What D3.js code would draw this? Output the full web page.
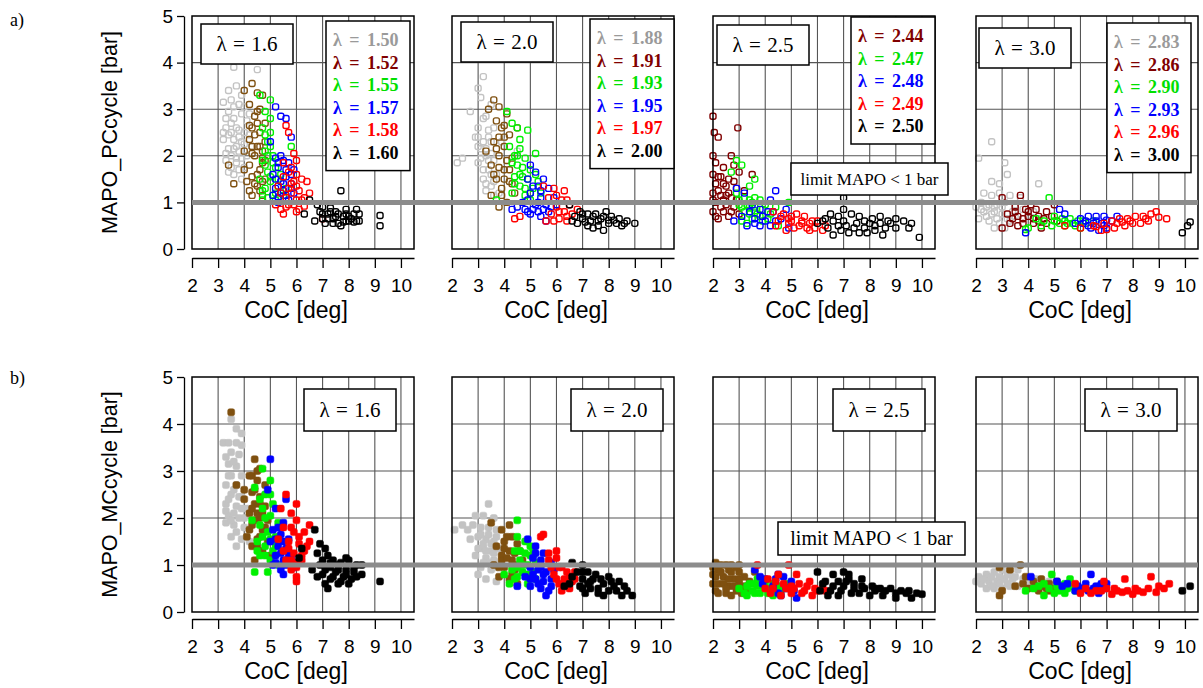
<!DOCTYPE html>
<html>
<head>
<meta charset="utf-8">
<script src="https://cdn.jsdelivr.net/npm/d3@7"></script>
<style>
  body { margin: 0; background: #fff; }
  text { fill: #000; }
</style>
</head>
<body>
<svg id="chart" width="1203" height="688"></svg>
<script>
// ---- data: [CoC deg, MAPO bar] ----
// a) MAPO_PCcycle, lambda = 1.6 panel
var pc16_150 = [[3.6,3.9],[4.5,3.85],[3.7,3.5],[3.2,3.15],[3.5,3.2],[3.8,3.1],[3.4,2.95],[3.9,2.9],[3.6,2.8],[4.1,2.75],[3.3,2.6],[3.7,2.6],[3.5,2.5],[4.0,2.5],[3.2,2.35],[3.6,2.35],[3.9,2.3],[4.3,2.2],[3.4,2.15],[3.8,2.1],[3.5,2.0],[4.1,2.0],[3.3,1.9],[3.7,1.85],[4.0,1.75],[3.6,1.6],[3.9,1.5],[3.4,3.4],[4.2,2.9],[3.9,3.3],[3.5,2.7],[3.8,2.4],[3.6,2.15],
  [3.4,2.45],[3.8,2.55],[4.0,2.25],[3.3,2.05],[3.7,1.95],[3.5,1.75],[3.9,1.95],[3.6,3.05],[3.3,2.8],[4.0,3.05],[3.7,2.2],[3.4,1.65],[3.8,1.7],[3.2,2.5],[4.2,2.45]];
var pc16_152 = [[4.3,3.55],[4.5,3.35],[4.7,3.3],[4.0,3.4],[4.2,3.1],[4.6,3.0],[4.4,2.85],[4.8,2.7],[4.3,2.6],[4.6,2.5],[4.2,2.35],[4.8,2.3],[4.5,2.2],[4.0,2.1],[4.4,2.0],[4.7,1.95],[3.4,1.8],[4.2,1.8],[4.6,1.7],[4.3,1.55],[4.8,1.5],[4.5,1.35],[4.2,1.25],[4.0,1.7],[4.7,1.15],[4.5,2.7],[4.3,2.2],
  [4.4,2.45],[4.6,2.2],[4.3,2.05],[4.7,1.85],[4.5,1.6],[4.4,1.4],[4.7,1.45],[4.6,1.25],[4.3,1.15],[4.8,1.9],[4.5,2.95],[4.2,2.65],[4.7,2.1],[3.6,1.4],[4.1,1.45]];
var pc16_155 = [[4.6,3.3],[5.0,3.2],[4.8,2.95],[5.0,2.8],[4.7,2.6],[5.0,2.5],[4.9,2.3],[5.8,2.2],[4.8,2.1],[5.1,2.0],[4.7,1.9],[5.2,1.75],[4.9,1.65],[5.4,1.6],[4.6,1.5],[5.0,1.45],[5.6,1.3],[4.7,1.25],[5.2,1.2],[5.5,1.15],[4.9,1.1],[5.3,1.35],
  [4.8,1.8],[5.0,1.55],[4.8,1.3],[5.1,1.15],[5.3,1.5],[4.9,2.0],[5.1,1.85],[4.8,2.45],[5.0,2.2],[4.7,1.05],[5.2,1.05]];
var pc16_157 = [[5.2,3.05],[5.4,2.85],[5.6,2.8],[5.8,2.4],[5.0,2.3],[5.2,1.95],[5.5,1.9],[5.7,1.85],[5.3,1.75],[5.9,1.7],[5.1,1.6],[5.6,1.55],[5.4,1.45],[5.8,1.4],[5.2,1.3],[5.5,1.25],[5.9,1.2],[5.3,1.1],[5.7,1.05],
  [5.3,1.85],[5.6,1.7],[5.2,1.5],[5.5,1.4],[5.8,1.3],[5.4,1.2],[5.1,1.15],[5.6,1.15],[5.8,1.6],[5.4,2.0],[5.3,1.0]];
var pc16_158 = [[5.6,2.65],[5.7,2.5],[5.9,2.05],[6.0,1.9],[5.5,1.85],[5.8,1.75],[6.0,1.6],[5.5,1.55],[5.9,1.45],[6.4,1.45],[5.3,1.35],[5.7,1.3],[6.1,1.25],[6.5,1.2],[5.6,1.1],[6.0,1.05],[5.2,0.95],[5.6,0.9],[5.9,0.95],[6.3,0.92],[5.5,0.75],[7.0,0.65],[6.1,0.85],
  [5.7,1.65],[6.0,1.35],[5.8,1.2],[5.4,1.2],[6.2,1.05],[5.7,0.95],[6.0,0.8],[5.4,0.85],[6.2,1.5],[6.3,1.1],[5.8,1.4]];
var pc16_160 = [[6.5,1.05],[6.8,0.95],[7.0,0.9],[7.3,0.88],[7.7,1.25],[6.3,0.75],[6.9,0.8],[7.2,0.75],[7.5,0.8],[7.9,0.85],[8.3,0.85],[7.0,0.65],[7.4,0.65],[7.8,0.7],[8.1,0.65],[8.4,0.75],[7.1,0.55],[7.6,0.55],[8.0,0.6],[8.3,0.6],[7.7,0.5],[9.2,0.72],[9.2,0.5],[6.7,0.6],[7.9,0.75],
  [7.2,0.65],[7.5,0.7],[7.3,0.8],[7.6,0.75],[8.0,0.7],[7.9,0.6],[8.2,0.75],[7.4,0.55],[8.4,0.6],[7.0,0.75],[7.8,0.58],[8.2,0.58]];

// a) lambda = 2.0 panel
var pc20_188 = [[3.2,3.7],[3.0,3.45],[3.1,3.25],[2.7,2.95],[3.5,3.1],[3.3,2.85],[3.0,2.6],[3.4,2.55],[2.9,2.4],[3.5,2.3],[2.2,1.85],[2.4,1.95],[3.1,2.15],[3.3,2.0],[3.6,1.9],[3.0,1.85],[3.4,1.7],[3.7,1.6],[3.2,1.5],[3.5,1.35],[3.8,1.2],[4.5,2.1],[3.9,2.3],[3.6,1.15],[3.3,1.25],[3.2,2.3],[3.6,2.6],
  [3.2,2.8],[3.4,2.4],[3.0,2.2],[3.3,2.15],[3.1,1.95],[3.4,1.9],[3.2,1.7],[3.5,1.6],[3.3,1.4],[3.6,1.45],[3.0,2.4],[3.5,2.05]];
var pc20_191 = [[3.6,3.2],[3.8,3.05],[3.4,3.0],[4.1,2.9],[4.5,2.6],[3.7,2.75],[3.9,2.6],[4.2,2.45],[3.6,2.3],[4.0,2.2],[3.3,2.1],[3.8,2.0],[4.3,1.95],[3.5,1.8],[4.0,1.7],[3.7,1.5],[4.2,1.45],[3.9,1.3],[3.5,1.15],[4.4,1.2],[3.8,0.9],[4.1,1.0],
  [3.8,2.4],[4.0,2.4],[3.7,2.15],[4.1,1.9],[3.8,1.75],[4.2,1.7],[4.0,1.5],[3.6,1.6],[4.3,1.4],[3.9,1.15],[4.0,2.65]];
var pc20_193 = [[4.1,2.95],[4.3,2.7],[4.5,2.6],[4.9,2.55],[4.6,2.35],[4.2,2.2],[5.2,2.05],[4.5,2.0],[4.8,1.95],[4.3,1.85],[4.7,1.75],[5.0,1.7],[4.4,1.55],[4.9,1.5],[5.3,1.45],[4.6,1.35],[5.1,1.3],[4.3,1.2],[4.8,1.15],[5.4,1.2],[3.7,1.05],[5.0,1.05],
  [4.6,2.15],[4.4,2.0],[4.7,1.55],[4.4,1.4],[5.0,1.2],[4.6,1.6],[4.5,1.8],[5.2,1.6],[4.8,1.3]];
var pc20_195 = [[5.0,1.8],[5.2,1.65],[4.9,1.5],[5.5,1.5],[5.3,1.35],[5.7,1.3],[5.0,1.2],[5.4,1.1],[5.9,1.1],[4.7,1.0],[5.2,0.95],[5.6,0.95],[6.0,0.95],[4.3,0.85],[4.8,0.85],[5.3,0.8],[5.7,0.8],[5.0,0.75],[5.6,0.6],[4.5,0.9],
  [5.1,1.35],[5.4,1.25],[4.9,1.05],[5.3,1.0],[5.5,0.85],[5.1,0.85],[5.4,0.7],[5.8,0.9],[4.9,0.8]];
var pc20_197 = [[5.5,1.35],[5.9,1.3],[6.3,1.25],[5.7,1.1],[6.2,1.05],[6.5,0.95],[6.0,0.9],[6.8,0.85],[6.3,0.8],[5.8,0.75],[6.6,0.75],[6.1,0.65],[4.6,0.7],[4.4,0.65],[5.6,0.6],[6.4,0.6],
  [6.0,1.15],[6.4,1.05],[6.1,0.8],[6.4,0.7],[5.9,0.6]];
var pc20_200 = [[6.5,0.95],[6.9,0.8],[7.2,0.75],[7.5,0.75],[7.9,0.8],[6.7,0.7],[7.0,0.65],[7.3,0.6],[7.7,0.65],[8.1,0.7],[8.4,0.65],[6.8,0.55],[7.2,0.5],[7.6,0.5],[8.0,0.55],[8.3,0.55],[8.7,0.6],[9.0,0.55],[7.8,0.4],[7.4,0.45],[6.6,0.6],[8.5,0.5],
  [7.0,0.75],[7.4,0.7],[7.8,0.7],[7.6,0.6],[8.0,0.62],[8.6,0.55],[7.1,0.58],[8.2,0.62]];

// a) lambda = 2.5 panel
var pc25_244 = [[2.0,2.85],[2.05,2.5],[2.95,2.6],[2.2,2.4],[2.7,2.0],[2.0,2.0],[2.1,1.85],[2.4,1.75],[2.8,1.8],[2.0,1.6],[2.3,1.55],[2.6,1.5],[3.0,1.65],[2.1,1.4],[2.5,1.35],[2.9,1.3],[2.0,1.2],[2.3,1.15],[2.7,1.1],[2.1,1.0],[2.5,0.95],[2.8,0.9],[2.0,0.8],[2.4,0.8],[2.2,0.65],[2.6,0.7],[3.0,0.75],[3.5,1.6],[3.2,1.25],
  [2.2,1.25],[2.4,1.05],[2.6,1.2],[2.3,0.9],[2.7,0.8],[2.9,1.05],[2.0,1.05],[2.2,1.55],[2.4,1.4],[2.8,1.45],[2.5,1.15],[2.1,0.7]];
var pc25_247 = [[2.9,1.9],[3.1,1.8],[2.7,1.65],[3.6,1.5],[3.4,1.35],[2.9,1.2],[3.2,1.1],[3.5,1.0],[3.8,1.05],[3.0,0.95],[3.4,0.9],[3.9,0.85],[4.4,0.9],[3.2,0.8],[3.7,0.75],[4.2,0.75],[3.5,0.65],[3.9,0.6],[4.5,0.5],[3.3,0.55],[4.9,1.0],[4.0,0.95],[3.6,0.82],
  [3.1,0.9],[3.3,0.95],[3.6,0.9],[3.4,0.75],[3.8,0.7],[3.1,0.6],[3.6,1.1],[3.0,1.05],[4.1,0.65],[3.4,1.05]];
var pc25_248 = [[2.9,1.3],[3.2,1.2],[4.4,1.25],[4.2,1.05],[3.5,0.95],[3.8,0.85],[4.3,0.8],[4.8,0.85],[3.1,0.7],[3.6,0.65],[4.0,0.6],[4.6,0.65],[3.3,0.5],[3.8,0.5],[4.2,0.5],[5.0,0.7],[2.8,0.6],[4.9,0.45],
  [3.4,0.8],[3.9,0.7],[4.4,0.6],[3.6,0.55],[4.1,0.8]];
var pc25_249 = [[4.3,0.8],[4.7,0.75],[5.0,0.7],[5.4,0.6],[4.5,0.6],[4.9,0.55],[5.3,0.5],[5.7,0.55],[6.0,0.6],[6.3,0.5],[5.1,0.45],[5.6,0.45],[4.4,0.5],[5.5,0.7],[5.2,0.75],[5.9,0.45],[6.2,0.4],[4.8,0.4],
  [4.6,0.7],[5.0,0.6],[5.8,0.6],[5.4,0.55],[4.9,0.65],[5.7,0.4]];
var pc25_250 = [[6.0,0.55],[6.3,0.65],[6.5,0.75],[6.8,0.7],[7.0,0.85],[7.3,0.75],[7.6,0.7],[7.8,0.6],[8.1,0.65],[8.4,0.7],[8.7,0.6],[9.0,0.65],[9.3,0.6],[9.6,0.55],[6.4,0.45],[6.8,0.5],[7.1,0.5],[7.4,0.45],[7.8,0.45],[8.2,0.5],[8.6,0.45],[9.0,0.45],[9.5,0.45],[6.6,0.3],[7.2,0.35],[7.9,0.35],[8.5,0.3],[9.9,0.25],[7.0,1.1],[8.8,0.55],[6.2,0.6],
  [6.6,0.6],[7.0,0.6],[7.5,0.55],[8.0,0.55],[8.4,0.55],[6.9,0.4],[7.6,0.35],[8.2,0.4]];

// a) lambda = 3.0 panel
var pc30_283 = [[2.6,2.3],[2.1,1.95],[3.1,1.85],[2.6,1.45],[2.9,1.4],[3.2,1.6],[4.4,1.4],[2.3,1.2],[2.6,1.15],[2.9,1.2],[3.3,1.15],[3.7,1.1],[2.2,1.0],[2.5,0.95],[2.8,0.95],[3.1,1.0],[3.5,0.95],[2.3,0.8],[2.7,0.8],[3.0,0.75],[3.4,0.8],[3.8,0.85],[4.2,0.8],[2.1,0.65],[2.5,0.6],[2.9,0.55],[3.3,0.6],[2.7,0.45],[3.1,0.45],[4.4,0.65],
  [2.4,0.9],[2.7,0.9],[3.0,0.9],[2.4,0.7],[2.8,0.65],[3.2,0.65],[2.2,0.85],[2.6,0.75],[3.5,0.7],[2.0,0.9]];
var pc30_286 = [[3.0,1.1],[3.7,1.15],[4.1,0.95],[3.5,0.9],[3.9,0.85],[4.3,0.85],[4.7,0.8],[5.0,0.95],[3.2,0.75],[3.6,0.7],[4.0,0.7],[4.4,0.7],[4.9,0.7],[3.3,0.55],[3.8,0.55],[4.2,0.55],[4.7,0.55],[5.1,0.6],[3.0,0.45],[4.5,0.45],
  [3.4,0.65],[3.8,0.65],[4.2,0.65],[4.6,0.65],[3.5,0.8],[4.0,0.8],[4.4,0.6],[3.6,0.5]];
var pc30_290 = [[4.8,1.1],[4.3,0.65],[4.6,0.6],[5.0,0.6],[5.3,0.65],[5.6,0.65],[5.9,0.6],[6.2,0.55],[6.5,0.6],[4.5,0.5],[4.9,0.5],[5.4,0.5],[5.8,0.5],[4.0,0.45],[3.9,0.42],[5.2,0.55],[6.0,0.45],
  [5.0,0.7],[5.4,0.6],[5.7,0.55],[6.1,0.6],[5.5,0.55]];
var pc30_293 = [[5.2,0.85],[5.4,0.75],[6.0,0.65],[6.3,0.7],[6.6,0.7],[6.9,0.7],[7.4,0.7],[6.1,0.55],[6.5,0.55],[6.8,0.55],[7.0,0.45],[6.4,0.45],[6.7,0.4],[3.9,0.35],[5.8,0.55],[7.2,0.6],
  [6.2,0.6],[6.6,0.6],[7.0,0.62],[6.9,0.5],[6.3,0.5]];
var pc30_296 = [[6.5,0.5],[6.9,0.55],[7.2,0.6],[7.5,0.65],[7.8,0.65],[8.1,0.7],[8.4,0.7],[8.7,0.75],[9.0,0.68],[9.3,0.65],[6.8,0.4],[7.3,0.45],[7.7,0.5],[8.0,0.55],[8.3,0.55],[8.6,0.6],[6.0,0.45],[7.0,0.42],[8.9,0.8],[5.4,0.5],
  [7.4,0.55],[7.9,0.6],[8.5,0.65],[6.6,0.48],[7.6,0.58]];
var pc30_300 = [[9.9,0.35],[10.2,0.58],[10.1,0.5]];

// b) MAPO_MCcycle, lambda = 1.6 panel
var mc16_150 = [[3.5,4.1],[3.7,3.9],[3.9,3.55],[3.2,3.6],[3.5,3.4],[3.4,3.15],[3.7,3.1],[3.5,2.9],[3.9,2.9],[3.3,2.7],[3.7,2.7],[3.5,2.5],[3.9,2.45],[3.3,2.3],[3.7,2.25],[4.1,2.2],[3.4,2.05],[3.8,2.0],[3.6,1.85],[4.0,1.8],[3.5,1.6],[3.9,1.55],[3.7,1.4],[4.2,1.5],[3.3,1.9],[3.8,3.35],
  [3.4,2.9],[3.6,2.6],[3.8,2.45],[3.4,2.4],[3.6,2.1],[3.9,2.2],[3.3,2.15],[3.7,1.7],[3.5,1.95],[4.0,2.0],[3.6,3.2],[3.4,3.6],[3.7,3.6],[3.9,3.8],[3.3,3.3]];
var mc16_152 = [[3.5,4.25],[4.4,3.25],[4.6,3.05],[4.2,2.9],[4.5,2.8],[4.8,2.7],[4.3,2.55],[4.6,2.45],[4.0,2.4],[4.4,2.3],[4.8,2.25],[4.2,2.1],[4.6,2.0],[4.9,1.95],[4.3,1.85],[4.7,1.75],[4.1,1.6],[4.5,1.55],[4.9,1.5],[4.3,1.4],[4.7,1.3],[4.4,1.1],[3.7,2.7],[5.0,1.2],
  [4.4,2.6],[4.6,2.3],[4.3,2.2],[4.5,2.1],[4.4,1.95],[4.7,2.1],[4.6,1.6],[4.2,1.75],[4.5,1.4],[4.8,1.8],[4.3,2.9],[4.5,3.0],[4.0,2.6]];
var mc16_155 = [[4.7,3.05],[5.0,2.8],[4.4,2.65],[4.8,2.5],[5.1,2.3],[4.7,2.2],[5.0,2.05],[4.3,1.95],[4.6,1.85],[5.3,1.9],[4.9,1.7],[5.2,1.6],[4.5,1.5],[4.8,1.4],[5.1,1.3],[4.6,1.2],[5.0,1.1],[4.4,0.85],[4.9,0.85],[5.3,1.0],
  [4.8,2.0],[4.7,1.6],[5.0,1.55],[4.8,1.2],[5.2,1.4],[4.6,2.4],[5.0,2.5],[4.5,1.3]];
var mc16_157 = [[5.0,3.25],[4.9,2.6],[5.6,2.4],[5.2,2.2],[5.5,1.9],[5.1,1.75],[5.4,1.65],[5.7,1.55],[5.0,1.5],[5.3,1.4],[5.6,1.35],[5.2,1.2],[5.5,1.1],[5.8,1.15],[5.1,1.0],[5.4,0.9],[5.9,0.95],[5.5,0.8],
  [5.3,1.8],[5.2,1.55],[5.5,1.5],[5.4,1.25],[5.7,1.2],[5.2,1.05],[5.6,1.0]];
var mc16_158 = [[5.6,2.5],[6.0,2.3],[5.4,2.2],[5.8,2.1],[6.5,1.85],[6.0,1.95],[5.5,1.8],[5.9,1.7],[6.3,1.7],[5.3,1.55],[5.7,1.5],[6.1,1.45],[6.5,1.5],[5.5,1.3],[5.9,1.25],[6.3,1.3],[5.6,1.1],[6.0,1.05],[5.8,0.9],[6.0,0.75],[6.0,0.65],[6.2,1.1],
  [5.8,1.8],[6.1,1.6],[5.7,1.35],[6.2,1.2],[5.8,1.1],[6.0,0.95],[6.4,1.4]];
var mc16_160 = [[6.2,1.35],[6.1,1.15],[6.7,1.75],[6.9,1.45],[7.1,1.35],[6.8,1.25],[7.2,1.2],[7.4,1.1],[7.7,1.05],[8.0,1.1],[8.3,1.0],[8.5,1.0],[6.9,1.0],[7.3,0.95],[7.6,0.9],[7.9,0.9],[8.2,0.85],[7.0,0.8],[7.4,0.75],[7.8,0.75],[8.1,0.7],[8.5,0.8],[7.1,0.6],[7.6,0.6],[8.0,0.6],[7.2,0.5],[9.2,0.65],[6.6,0.9],[7.9,1.15],
  [7.0,1.1],[7.3,1.05],[7.6,1.0],[7.1,0.9],[7.5,0.85],[7.9,0.8],[8.2,0.95],[7.3,0.7],[7.7,0.65],[8.3,0.75],[6.8,0.75]];

// b) lambda = 2.0 panel
var mc20_188 = [[3.4,2.3],[2.9,2.05],[3.2,2.05],[3.6,2.0],[2.4,1.85],[2.1,1.75],[2.8,1.85],[3.1,1.8],[3.4,1.8],[3.7,1.75],[2.7,1.55],[3.0,1.6],[3.3,1.55],[3.6,1.5],[3.2,1.35],[3.5,1.3],[3.8,1.35],[2.9,1.2],[3.3,1.15],[3.6,1.1],[3.1,0.95],[3.5,0.9],[3.9,1.0],[3.3,0.7],[3.7,0.65],[4.5,0.85],[4.2,0.7],[3.0,0.8],
  [3.1,1.65],[3.4,1.65],[3.2,1.45],[3.5,1.45],[3.0,1.35],[3.3,1.3],[3.6,1.25],[3.4,1.05],[3.7,0.95],[3.2,1.05],[2.6,1.75],[3.7,1.6]];
var mc20_191 = [[3.5,1.9],[4.2,1.85],[3.9,1.75],[4.3,1.6],[4.0,1.5],[4.5,1.45],[3.7,1.4],[4.2,1.3],[4.6,1.3],[3.9,1.2],[4.3,1.1],[4.7,1.1],[3.6,1.0],[4.0,0.95],[4.4,0.9],[3.8,0.75],[4.2,0.7],[4.5,0.6],[3.9,1.1],
  [4.1,1.6],[4.4,1.25],[4.1,1.15],[4.4,1.0],[3.8,0.95],[4.3,0.8],[4.0,1.35]];
var mc20_193 = [[4.5,1.95],[4.5,1.6],[4.8,1.5],[5.0,1.4],[4.4,1.3],[4.8,1.25],[5.1,1.2],[4.6,1.1],[4.9,1.0],[5.2,1.05],[4.3,0.9],[4.7,0.85],[5.1,0.85],[4.0,0.8],[4.5,0.75],[4.9,0.6],[4.2,0.6],[5.2,0.7],
  [4.6,1.3],[5.0,1.2],[4.7,1.0],[4.5,0.95],[4.9,0.8],[4.4,0.7],[5.1,1.35]];
var mc20_195 = [[4.9,1.55],[5.2,1.4],[5.5,1.25],[5.1,1.15],[5.4,1.1],[5.8,1.05],[5.0,0.95],[5.3,0.9],[5.6,0.85],[5.9,0.9],[4.8,0.75],[5.2,0.7],[5.5,0.65],[5.8,0.7],[5.0,0.55],[5.4,0.5],[5.7,0.45],[4.5,0.55],[5.6,0.35],
  [5.2,1.25],[5.4,0.95],[5.1,0.8],[5.5,0.8],[5.3,0.6],[5.8,0.55],[5.0,0.7]];
var mc20_197 = [[5.4,1.6],[5.5,1.65],[5.7,1.25],[6.0,1.3],[6.0,1.15],[5.7,1.1],[6.1,0.95],[6.4,0.85],[6.7,0.85],[5.9,0.8],[6.3,0.7],[6.6,0.65],[6.1,0.6],[6.5,0.5],[6.2,0.45],[5.8,0.95],
  [6.2,0.95],[6.5,0.75],[6.0,0.7],[6.7,0.7],[6.3,0.55]];
var mc20_200 = [[6.6,1.05],[7.0,1.0],[6.8,0.85],[7.2,0.85],[7.5,0.8],[8.0,0.75],[6.6,0.75],[7.0,0.7],[7.3,0.65],[7.7,0.7],[8.1,0.65],[8.4,0.65],[6.5,0.6],[6.9,0.55],[7.3,0.5],[7.6,0.5],[8.0,0.45],[8.3,0.45],[8.7,0.45],[7.1,0.4],[7.8,0.35],[8.5,0.35],[8.9,0.35],[6.3,0.55],
  [7.0,0.85],[7.4,0.7],[7.8,0.6],[7.2,0.6],[8.2,0.55],[7.6,0.4],[8.6,0.55],[7.0,0.5]];

// b) lambda = 2.5 panel
var mc25_244 = [[2.1,1.05],[2.5,1.0],[2.2,0.9],[2.6,0.9],[3.0,0.85],[2.1,0.75],[2.4,0.75],[2.8,0.7],[3.2,0.75],[2.2,0.6],[2.6,0.55],[3.0,0.6],[3.4,0.65],[2.1,0.45],[2.5,0.4],[2.9,0.45],[3.3,0.45],[2.7,0.35],[3.6,0.85],[2.3,1.0],[3.0,1.0],
  [2.0,0.95],[2.3,0.85],[2.7,0.85],[2.0,0.6],[2.4,0.6],[2.8,0.55],[3.2,0.55],[2.2,0.4],[2.6,0.7],[3.0,0.7],[2.9,0.95],[2.0,0.8],[2.5,0.5],[3.1,0.4],[2.7,1.0]];
var mc25_247 = [[3.0,0.5],[3.3,0.55],[3.6,0.6],[3.9,0.55],[4.2,0.5],[4.5,0.55],[3.5,0.45],[3.8,0.4],[4.1,0.4],[4.6,0.45],[3.2,0.4],[4.3,0.35],[4.8,0.6],[3.7,0.7],
  [3.4,0.6],[3.7,0.55],[4.0,0.6],[4.3,0.6],[3.6,0.4],[4.4,0.45],[3.9,0.65],[3.3,0.35]];
var mc25_248 = [[3.6,0.9],[3.8,0.75],[4.5,0.8],[4.7,0.75],[5.0,0.65],[4.3,0.55],[4.8,0.5],[5.1,0.45],[5.2,0.3],[4.6,0.35],[3.9,0.6],
  [4.0,0.7],[4.4,0.7],[5.0,0.55],[4.5,0.4]];
var mc25_249 = [[3.7,1.0],[4.9,1.0],[4.1,0.7],[4.4,0.65],[4.7,0.6],[5.0,0.55],[5.3,0.6],[5.6,0.55],[5.9,0.5],[6.2,0.5],[4.2,0.4],[4.6,0.35],[5.0,0.4],[5.4,0.4],[5.8,0.35],[6.3,0.45],[5.2,0.8],[4.0,0.5],
  [4.3,0.5],[4.8,0.5],[5.1,0.5],[5.5,0.45],[6.0,0.45],[5.7,0.65],[4.5,0.8]];
var mc25_250 = [[6.0,0.85],[6.6,0.8],[7.0,0.85],[7.2,0.8],[6.3,0.65],[6.8,0.65],[7.1,0.65],[7.4,0.6],[7.7,0.55],[8.1,0.55],[8.4,0.5],[8.8,0.5],[9.2,0.45],[9.5,0.45],[9.8,0.4],[6.1,0.45],[6.5,0.45],[6.9,0.45],[7.3,0.4],[7.6,0.4],[8.0,0.35],[8.5,0.35],[9.0,0.3],[9.6,0.3],[10.0,0.38],[6.4,0.35],[7.7,0.7],[8.2,0.45],
  [6.6,0.55],[7.0,0.55],[7.4,0.5],[7.8,0.5],[8.2,0.5],[8.6,0.45],[9.0,0.4],[9.4,0.4],[6.8,0.35],[7.2,0.7],[6.2,0.6]];

// b) lambda = 3.0 panel
var mc30_283 = [[2.1,0.75],[2.4,0.8],[2.7,0.85],[3.0,0.9],[3.3,0.85],[3.6,0.9],[2.2,0.6],[2.5,0.65],[2.8,0.65],[3.1,0.7],[3.4,0.7],[3.8,0.7],[2.4,0.5],[2.7,0.5],[3.0,0.5],[3.3,0.55],[4.1,0.6],[4.5,0.55],[4.8,0.65],[3.6,0.55],
  [2.3,0.7],[2.6,0.75],[2.9,0.75],[3.2,0.8],[3.5,0.75],[2.6,0.55],[2.9,0.6],[3.2,0.6],[3.9,0.6],[4.3,0.7],[2.0,0.65]];
var mc30_286 = [[2.9,0.95],[3.7,1.0],[3.0,0.45],[2.9,0.35],[3.9,0.75],[4.2,0.65],[4.5,0.7],[4.8,0.6],[5.2,0.55],[4.0,0.5],[4.4,0.45],[4.8,0.45],[5.1,0.65],[3.5,0.55],[4.6,0.55],
  [4.3,0.55],[4.7,0.5],[5.0,0.5],[3.8,0.6],[3.3,0.9]];
var mc30_290 = [[4.9,0.8],[4.4,0.55],[4.8,0.5],[5.1,0.55],[5.4,0.6],[5.7,0.55],[5.0,0.4],[5.4,0.4],[5.8,0.45],[3.9,0.45],[4.6,0.35],[5.6,0.7],
  [4.6,0.6],[5.2,0.45],[5.5,0.5],[4.2,0.5],[6.0,0.5]];
var mc30_293 = [[4.1,0.75],[5.1,0.65],[5.5,0.6],[5.9,0.55],[6.2,0.6],[6.4,0.8],[6.6,0.55],[6.9,0.5],[5.8,0.45],[6.3,0.45],[6.7,0.4],[7.0,0.6],
  [6.1,0.5],[6.5,0.5],[6.8,0.6],[5.3,0.55]];
var mc30_296 = [[5.8,0.6],[6.2,0.5],[6.6,0.45],[7.0,0.5],[7.4,0.45],[7.8,0.45],[8.2,0.45],[8.6,0.5],[9.0,0.55],[9.4,0.6],[7.7,0.7],[8.7,0.75],[6.4,0.4],[7.2,0.38],[8.0,0.38],[8.9,0.42],[6.9,0.65],
  [6.8,0.45],[7.3,0.5],[7.6,0.42],[8.1,0.5],[8.4,0.42],[9.2,0.5],[6.0,0.4]];
var mc30_300 = [[9.9,0.45],[10.2,0.55]];

// panel titles and legend labels
var panelLambda = ["1.6", "2.0", "2.5", "3.0"];
var legend16 = ["1.50", "1.52", "1.55", "1.57", "1.58", "1.60"];
var legend20 = ["1.88", "1.91", "1.93", "1.95", "1.97", "2.00"];
var legend25 = ["2.44", "2.47", "2.48", "2.49", "2.50"];
var legend30 = ["2.83", "2.86", "2.90", "2.93", "2.96", "3.00"];
var xTicks = [2, 3, 4, 5, 6, 7, 8, 9, 10];
var yTicks = [0, 1, 2, 3, 4, 5];
var limitValue = 1;

// ---- styles ----
var C = { gray: "#c3c3c3", brown: "#7f5010", dred: "#800000", green: "#00f000", blue: "#0000ff", red: "#ff0000", black: "#000000" };
var legendText = { gray: "#9a9a9a", brown: "#800000", dred: "#800000", green: "#00e000", blue: "#0000ff", red: "#ff0000", black: "#000000" };
var set6 = ["gray", "brown", "green", "blue", "red", "black"];

var rows = [
  { top: 16, bottom: 249, axisY: 258, letter: "a)", letterY: 26, ylabel: "MAPO_PCcycle [bar]", filled: false,
    panels: [
      { series: [pc16_150, pc16_152, pc16_155, pc16_157, pc16_158, pc16_160], colors: set6, legend: legend16, legendColors: ["gray", "dred", "green", "blue", "red", "black"] },
      { series: [pc20_188, pc20_191, pc20_193, pc20_195, pc20_197, pc20_200], colors: set6, legend: legend20, legendColors: ["gray", "dred", "green", "blue", "red", "black"] },
      { series: [pc25_244, pc25_247, pc25_248, pc25_249, pc25_250], colors: ["dred", "green", "blue", "red", "black"], legend: legend25, legendColors: ["dred", "green", "blue", "red", "black"] },
      { series: [pc30_283, pc30_286, pc30_290, pc30_293, pc30_296, pc30_300], colors: ["gray", "dred", "green", "blue", "red", "black"], legend: legend30, legendColors: ["gray", "dred", "green", "blue", "red", "black"] }
    ] },
  { top: 377, bottom: 612, axisY: 619, letter: "b)", letterY: 384, ylabel: "MAPO_MCcycle [bar]", filled: true,
    panels: [
      { series: [mc16_150, mc16_152, mc16_155, mc16_157, mc16_158, mc16_160], colors: set6 },
      { series: [mc20_188, mc20_191, mc20_193, mc20_195, mc20_197, mc20_200], colors: set6 },
      { series: [mc25_244, mc25_247, mc25_248, mc25_249, mc25_250], colors: ["brown", "green", "blue", "red", "black"] },
      { series: [mc30_283, mc30_286, mc30_290, mc30_293, mc30_296, mc30_300], colors: set6 }
    ] }
];

var panelLeft = [192, 452, 713, 976];
var panelW = 222;
// box placement
var topLamBox = [[9, 24], [9, 22], [4, 25], [3, 28]];
var topLegBox = [[134, 21], [138, 19], [138, 17], [131, 23]];
var botLamBox = [112, 119, 120, 109];

var svg = d3.select("#chart");
var sans = "Liberation Sans, Arial, sans-serif";
var serif = "Liberation Serif, Times New Roman, serif";

rows.forEach(function(row, r) {
  var y = d3.scaleLinear().domain([0, 5]).range([row.bottom, row.top]);

  // y axis
  var ya = svg.append("g").attr("transform", "translate(184,0)")
    .call(d3.axisLeft(y).tickValues(yTicks).tickFormat(d3.format("d")).tickSize(7).tickSizeOuter(0).tickPadding(4));
  ya.selectAll("text").style("font", "19px " + sans).attr("fill", "#000");
  ya.selectAll("line, path").attr("stroke", "#000").attr("stroke-width", 1.3);

  svg.append("text")
    .attr("transform", "translate(117," + ((row.top + row.bottom) / 2) + ") rotate(-90)")
    .attr("text-anchor", "middle")
    .style("font", "21.5px " + sans)
    .text(row.ylabel);

  svg.append("text").attr("x", 10).attr("y", row.letterY)
    .style("font", "18px " + serif).text(row.letter);

  row.panels.forEach(function(p, i) {
    var x0 = panelLeft[i];
    var x = d3.scaleLinear().domain([2, 10.5]).range([x0, x0 + panelW]);
    var g = svg.append("g");

    // grid
    g.selectAll(".vg").data(xTicks.slice(1)).join("line")
      .attr("x1", function(d) { return x(d); }).attr("x2", function(d) { return x(d); })
      .attr("y1", row.top).attr("y2", row.bottom)
      .attr("stroke", "#555").attr("stroke-width", 1.1);
    g.selectAll(".hg").data(yTicks.slice(1, 5)).join("line")
      .attr("x1", x0).attr("x2", x0 + panelW)
      .attr("y1", function(d) { return y(d); }).attr("y2", function(d) { return y(d); })
      .attr("stroke", "#555").attr("stroke-width", 1.1);

    // points
    p.series.forEach(function(pts, k) {
      var col = C[p.colors[k]];
      var sz = row.filled ? 7 : 6;
      g.append("g").selectAll("rect").data(pts).join("rect")
        .attr("x", function(d) { return x(d[0]) - sz / 2; })
        .attr("y", function(d) { return y(d[1]) - sz / 2; })
        .attr("width", sz).attr("height", sz)
        .attr("rx", 2)
        .attr("fill", row.filled ? col : "none")
        .attr("stroke", col)
        .attr("stroke-width", row.filled ? 0.5 : 1.4);
    });

    // frame
    g.append("rect").attr("x", x0).attr("y", row.top)
      .attr("width", panelW).attr("height", row.bottom - row.top)
      .attr("fill", "none").attr("stroke", "#000").attr("stroke-width", 1.5);

    // x axis
    var xa = svg.append("g").attr("transform", "translate(0," + row.axisY + ")")
      .call(d3.axisBottom(x).tickValues(xTicks).tickSize(10).tickSizeOuter(0).tickPadding(11));
    xa.selectAll("text").style("font", "19px " + sans).attr("fill", "#000");
    xa.selectAll("line, path").attr("stroke", "#000").attr("stroke-width", 1.3);

    svg.append("text").attr("x", x0 + 104).attr("y", row.axisY + 60)
      .attr("text-anchor", "middle").style("font", "23px " + sans).text("CoC [deg]");
  });

  // limit line across the row
  svg.append("line").attr("x1", panelLeft[0]).attr("x2", 1198)
    .attr("y1", y(limitValue)).attr("y2", y(limitValue))
    .attr("stroke", "#8c8c8c").attr("stroke-width", 5);

  // boxes
  row.panels.forEach(function(p, i) {
    var x0 = panelLeft[i];
    var bx, by, bh;
    if (r === 0) { bx = x0 + topLamBox[i][0]; by = topLamBox[i][1]; bh = 40; }
    else { bx = x0 + botLamBox[i]; by = 389; bh = 42; }
    svg.append("rect").attr("x", bx).attr("y", by).attr("width", 92).attr("height", bh)
      .attr("fill", "#fff").attr("stroke", "#000").attr("stroke-width", 1.5);
    svg.append("text").attr("x", bx + 46).attr("y", by + bh / 2 + 7)
      .attr("text-anchor", "middle").style("font", "21px " + serif)
      .style("word-spacing", "1px")
      .text("\u03bb = " + panelLambda[i]);

    if (p.legend) {
      var lx = x0 + topLegBox[i][0], ly = topLegBox[i][1];
      var n = p.legend.length;
      svg.append("rect").attr("x", lx).attr("y", ly).attr("width", 84).attr("height", n * 22.6 + 14)
        .attr("fill", "#fff").attr("stroke", "#000").attr("stroke-width", 1.5);
      svg.append("g").selectAll("text").data(p.legend).join("text")
        .attr("x", lx + 7)
        .attr("y", function(d, k) { return ly + 25 + k * 22.6; })
        .style("font", "bold 18px " + serif)
        .style("word-spacing", "3px")
        .style("fill", function(d, k) { return legendText[p.legendColors[k]]; })
        .text(function(d) { return "\u03bb = " + d; });
    }
  });

  // limit label
  var lb = r === 0 ? { x: 791, y: 163, w: 157, h: 32, fs: 17 } : { x: 778, y: 522, w: 187, h: 33, fs: 20 };
  svg.append("rect").attr("x", lb.x).attr("y", lb.y).attr("width", lb.w).attr("height", lb.h)
    .attr("fill", "#fff").attr("stroke", "#000").attr("stroke-width", 1.5);
  svg.append("text").attr("x", lb.x + lb.w / 2).attr("y", lb.y + lb.h / 2 + 6)
    .attr("text-anchor", "middle").style("font", lb.fs + "px " + serif)
    .text("limit MAPO < 1 bar");
});
</script>
</body>
</html>
